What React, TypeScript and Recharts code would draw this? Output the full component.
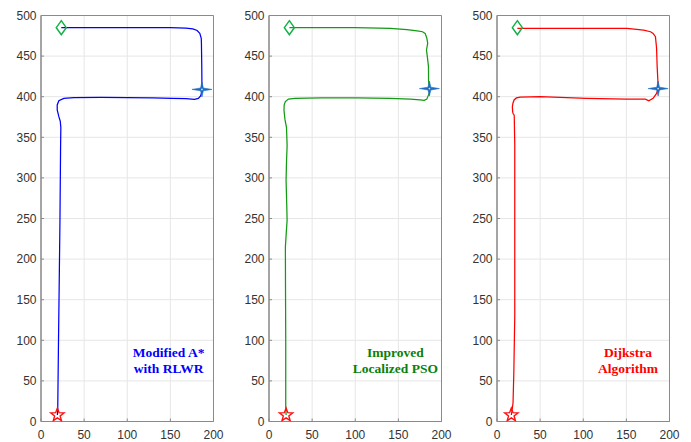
import { ComposedChart, Line, Scatter, XAxis, YAxis, CartesianGrid, ReferenceArea, ReferenceDot } from "recharts";

const xTicks = [0, 50, 100, 150, 200];
const yTicks = [0, 50, 100, 150, 200, 250, 300, 350, 400, 450, 500];

// planned paths, sampled from start to goal
const astarX = [19, 19.4, 20.3, 21.3, 22, 22.7, 23, 22.3, 20.7, 18.8, 18.8, 20.7, 26.5, 38, 70, 100, 130, 152, 168, 178, 182.5, 185, 186.3, 186.6, 186.4, 186, 185.8, 184.1, 181, 176, 168, 150, 100, 50, 23.5];
const astarY = [8, 14, 100, 186, 250, 338, 362, 370, 375.4, 383.6, 389.8, 395, 398, 399, 399.3, 399, 398.5, 398, 397.5, 396.8, 398, 401, 405, 410, 437, 466, 472, 478, 481.5, 483.6, 484.5, 485, 485, 485.2, 485];

const psoX = [19.8, 19.4, 19.4, 19.1, 19, 20, 21, 20.5, 19.8, 20.3, 21, 20.3, 18.5, 17.4, 17.6, 19, 22.5, 30, 60, 102, 140, 164, 175, 180, 183, 184.5, 186, 186, 185, 184.9, 183.5, 182.6, 184, 183, 181, 178, 171.7, 160, 140.7, 100, 60, 23.6];
const psoY = [8, 20, 100, 174, 215, 232, 248, 270, 297, 320, 340, 362, 372, 383, 390, 394, 397, 398, 398.4, 398.6, 398, 397, 396, 395.5, 397, 401, 405, 410, 420, 437, 450, 457.5, 465.7, 472, 478, 480, 481, 482.5, 484, 485, 485, 485];

const dijkstraX = [16.6, 17.5, 18.6, 19.5, 20.6, 20.6, 20.6, 20, 19.8, 18.8, 18.2, 17.8, 18.5, 19.8, 22.5, 26.7, 50, 104, 150, 172, 176, 181, 185, 186.8, 186.5, 185.7, 185, 183.7, 181, 178, 170, 150.8, 100, 60, 23.6];
const dijkstraY = [8, 14, 23, 60, 130, 250, 340, 376, 377.5, 379, 381, 387.6, 392, 396, 398.5, 399.5, 400, 398, 397, 397, 395, 398, 404, 410, 420, 437, 460, 474, 478, 480, 482, 484, 484, 484, 484];

// start, intermediate waypoint and goal for each panel
const startX = [19, 19.8, 16.6];
const startY = [8, 8, 8];
const waypointX = [186.6, 186, 186.8];
const waypointY = [409, 410, 410];
const goalX = [23.5, 23.6, 23.6];
const goalY = [485, 485, 485];

const captions = [["Modified A*", "with RLWR"], ["Improved", "Localized PSO"], ["Dijkstra", "Algorithm"]];

const zip = (xs: number[], ys: number[]) => xs.map((x, i) => ({ x, y: ys[i] }));

const panels = [
  { path: zip(astarX, astarY), line: "#0000ff", text: "#0000ff", left: 0.5, capX: 148 },
  { path: zip(psoX, psoY), line: "#129a12", text: "#0a800a", left: 229, capX: 146.5 },
  { path: zip(dijkstraX, dijkstraY), line: "#ff0000", text: "#ff0000", left: 457, capX: 152 },
];

function StartStar(p: any) {
  const { cx, cy } = p;
  const pts: string[] = [];
  for (let i = 0; i < 10; i++) {
    const r = i % 2 === 0 ? 7 : 2.9;
    const a = -Math.PI / 2 + (i * Math.PI) / 5;
    pts.push(`${cx + r * Math.cos(a)},${cy + r * Math.sin(a)}`);
  }
  return <polygon points={pts.join(" ")} fill="none" stroke="#ff1010" strokeWidth={1.4} />;
}

function GoalDiamond(p: any) {
  const { cx, cy } = p;
  return (
    <polygon
      points={`${cx},${cy - 7} ${cx + 5},${cy} ${cx},${cy + 7} ${cx - 5},${cy}`}
      fill="none"
      stroke="#14b04a"
      strokeWidth={1.5}
    />
  );
}

function WaypointStar(p: any) {
  const { cx, cy } = p;
  const d = 1.4;
  const pts = [
    [cx - 10, cy], [cx - d, cy - d], [cx, cy - 7.5], [cx + d, cy - d],
    [cx + 10, cy], [cx + d, cy + d], [cx, cy + 7.5], [cx - d, cy + d],
  ];
  return (
    <g>
      <polygon points={pts.map((q) => q.join(",")).join(" ")} fill="#1c6cc2" stroke="#1c6cc2" strokeWidth={0.6} />
      <circle cx={cx} cy={cy} r={0.9} fill="#cfe2f5" />
    </g>
  );
}

const tickStyle = { fill: "#333333", fontSize: 12, fontFamily: "Liberation Sans, Arial, sans-serif" };

function Panel({ idx }: { idx: number }) {
  const pn = panels[idx];
  const [l1, l2] = captions[idx];
  return (
    <div style={{ position: "absolute", left: pn.left, top: 0 }}>
      <ComposedChart width={228} height={442} margin={{ top: 15.5, right: 15.5, left: 0, bottom: 0 }}>
        <CartesianGrid stroke="#e6e6e6" strokeWidth={1} />
        <XAxis
          type="number"
          dataKey="x"
          domain={[0, 200]}
          ticks={xTicks}
          height={20.5}
          tickSize={-3}
          tickMargin={12}
          tick={tickStyle}
          axisLine={{ stroke: "#8a8a8a" }}
          tickLine={{ stroke: "#8a8a8a" }}
          allowDataOverflow
        />
        <YAxis
          type="number"
          dataKey="y"
          domain={[0, 500]}
          ticks={yTicks}
          width={40}
          tickSize={-3}
          tickMargin={7.5}
          tick={tickStyle}
          axisLine={{ stroke: "#8a8a8a" }}
          tickLine={{ stroke: "#8a8a8a" }}
          allowDataOverflow
        />
        <ReferenceArea x1={0} x2={200} y1={0} y2={500} fill="none" stroke="#8a8a8a" strokeWidth={1} ifOverflow="visible" />
        <Line
          data={pn.path}
          dataKey="y"
          type="linear"
          stroke={pn.line}
          strokeWidth={1.25}
          dot={false}
          activeDot={false}
          isAnimationActive={false}
        />
        <Scatter data={[{ x: startX[idx], y: startY[idx] }]} dataKey="y" shape={StartStar} isAnimationActive={false} />
        <Scatter data={[{ x: goalX[idx], y: goalY[idx] }]} dataKey="y" shape={GoalDiamond} isAnimationActive={false} />
        <Scatter data={[{ x: waypointX[idx], y: waypointY[idx] }]} dataKey="y" shape={WaypointStar} isAnimationActive={false} />
        <ReferenceDot
          x={pn.capX}
          y={75.7}
          r={0}
          shape={(p: any) => (
            <text
              x={p.cx}
              y={p.cy}
              textAnchor="middle"
              fill={pn.text}
              fontSize={13.5}
              fontWeight="bold"
              fontFamily="Liberation Serif, Times New Roman, serif"
            >
              <tspan x={p.cx} dy={-3.5}>{l1}</tspan>
              <tspan x={p.cx} dy={16}>{l2}</tspan>
            </text>
          )}
        />
      </ComposedChart>
    </div>
  );
}

export default function App() {
  return (
    <div style={{ position: "absolute", left: 0, top: 0, width: 691, height: 442, background: "#fff" }}>
      <Panel idx={0} />
      <Panel idx={1} />
      <Panel idx={2} />
    </div>
  );
}
